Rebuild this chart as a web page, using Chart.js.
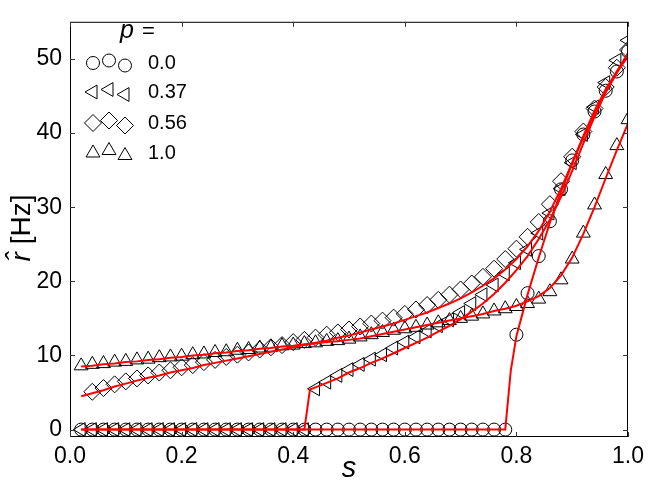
<!DOCTYPE html>
<html>
<head>
<meta charset="utf-8">
<script src="https://cdn.jsdelivr.net/npm/chart.js@4.4.1/dist/chart.umd.min.js"></script>
<style>
  html, body { margin: 0; padding: 0; background: #fff; }
  #wrap { width: 650px; height: 496px; position: relative; }
</style>
</head>
<body>
<div id="wrap"><canvas id="c" width="650" height="496"></canvas></div>
<script>
// ---------- data ----------
const sGrid = [0.02,0.04,0.06,0.08,0.10,0.12,0.14,0.16,0.18,0.20,
               0.22,0.24,0.26,0.28,0.30,0.32,0.34,0.36,0.38,0.40,
               0.42,0.44,0.46,0.48,0.50,0.52,0.54,0.56,0.58,0.60,
               0.62,0.64,0.66,0.68,0.70,0.72,0.74,0.76,0.78,0.80,
               0.82,0.84,0.86,0.88,0.90,0.92,0.94,0.96,0.98,1.00];

// simulation markers
const rP000 = [0,0,0,0,0,0,0,0,0,0,
               0,0,0,0,0,0,0,0,0,0,
               0,0,0,0,0,0,0,0,0,0,
               0,0,0,0,0,0,0,0,0,12.8,
               18.4,23.4,28.1,32.4,36.3,39.8,42.9,45.7,48.3,51.0];
const rP037 = [0,0,0,0,0,0,0,0,0,0,
               0,0,0,0,0,0,0,0,0,0,
               0,5.5,6.4,7.3,8.1,8.8,9.5,10.1,11.0,11.8,
               12.5,13.3,14.0,14.8,15.8,17.0,18.2,19.5,21.0,22.5,
               24.3,26.5,29.2,32.5,36.0,39.8,43.5,46.8,49.8,52.5];
const rP056 = [null,5.1,5.6,6.1,6.5,6.9,7.3,7.7,8.0,8.4,
               8.7,9.1,9.4,9.8,10.1,10.4,10.8,11.1,11.4,11.8,
               12.1,12.4,12.8,13.1,13.5,13.9,14.3,14.7,15.1,15.6,
               16.2,16.8,17.5,18.2,18.9,19.7,20.6,21.7,23.0,24.4,
               26.0,28.0,30.4,33.5,36.8,40.2,43.3,46.2,48.8,51.2];
const rP100 = [8.6,8.8,8.9,9.1,9.2,9.4,9.5,9.7,9.8,9.9,
               10.1,10.2,10.4,10.5,10.7,10.8,11.0,11.1,11.3,11.4,
               11.6,11.7,11.9,12.0,12.2,12.5,12.8,13.1,13.4,13.6,
               13.8,14.1,14.4,14.7,15.0,15.3,15.6,16.0,16.3,16.6,
               17.0,17.6,18.6,20.2,23.0,26.5,30.3,34.4,38.3,41.8];

// theory curves (red)
const fitS000 = [0.02,0.78,0.79,0.80,0.82,0.84,0.86,0.88,0.90,0.92,0.94,0.96,0.98,1.00];
const fitR000 = [0,0,8.0,12.6,18.2,23.2,27.9,32.1,35.9,39.4,42.6,45.5,48.1,50.5];
const fitS037 = [0.02,0.42,0.43,0.44,0.46,0.48,0.50,0.52,0.54,0.56,0.58,0.60,0.62,0.64,0.66,0.68,
                 0.70,0.72,0.74,0.76,0.78,0.80,0.82,0.84,0.86,0.88,0.90,0.92,0.94,0.96,0.98,1.00];
const fitR037 = [0,0,5.4,5.7,6.3,6.9,7.7,8.3,9.0,9.6,10.3,11.0,11.7,12.4,13.2,14.0,
                 14.9,15.9,17.0,18.3,19.8,21.5,23.4,25.7,28.3,31.4,34.9,38.6,42.2,45.5,48.3,50.8];
const fitR056 = [4.5,4.9,5.3,5.8,6.2,6.6,7.0,7.3,7.7,8.0,
                 8.3,8.7,9.0,9.3,9.6,9.9,10.2,10.5,10.8,11.1,
                 11.4,11.7,12.0,12.4,12.7,13.1,13.5,13.9,14.3,14.8,
                 15.3,15.8,16.4,17.0,17.7,18.5,19.4,20.4,21.6,23.0,
                 24.7,26.8,29.4,32.5,36.0,39.6,43.0,45.9,48.3,50.3];
const fitR100 = [8.5,8.6,8.8,8.9,9.1,9.2,9.4,9.5,9.7,9.8,
                 10.0,10.1,10.3,10.4,10.6,10.7,10.9,11.0,11.2,11.3,
                 11.5,11.6,11.8,11.9,12.1,12.3,12.6,12.9,13.2,13.5,
                 13.8,14.1,14.4,14.7,15.0,15.3,15.6,16.0,16.3,16.7,
                 17.3,18.0,19.1,20.8,23.2,26.4,30.0,33.9,37.7,41.3];

const pLabels = ['0.0','0.37','0.56','1.0'];
const xTicks = [0.0,0.2,0.4,0.6,0.8,1.0];
const yTicks = [0,10,20,30,40,50];

// ---------- helpers ----------
const pts = (xs, ys) => xs.map((s,i)=>({x:s,y:ys[i]})).filter(p=>p.y!==null && p.y!==undefined);
const FONT = '"Liberation Sans", Arial, Helvetica, sans-serif';

function markerSet(label, ys, style, radius, rotation) {
  return {
    label, data: pts(sGrid, ys), showLine: false, order: 2,
    pointStyle: style, pointRadius: radius, pointHoverRadius: radius, pointRotation: rotation,
    pointBorderColor: '#000', pointBackgroundColor: 'rgba(0,0,0,0)', pointBorderWidth: 1
  };
}
function fitSet(xs, ys) {
  return {
    label: '', data: pts(xs, ys), showLine: true, order: 0,
    borderColor: '#ff0000', borderWidth: 2, pointRadius: 0, pointHoverRadius: 0,
    tension: 0, fill: false
  };
}

const markers = [
  markerSet(pLabels[0], rP000, 'circle', 6.5, 0),
  markerSet(pLabels[1], rP037, 'triangle', 8, -90),
  markerSet(pLabels[2], rP056, 'rectRot', 8.5, 0),
  markerSet(pLabels[3], rP100, 'triangle', 8, 0)
];
const fits = [
  fitSet(fitS000, fitR000),
  fitSet(fitS037, fitR037),
  fitSet(sGrid, fitR056),
  fitSet(sGrid, fitR100)
];

function drawMarker(ctx, style, r, rot, x, y) {
  if (Chart.helpers && Chart.helpers.drawPoint) {
    Chart.helpers.drawPoint(ctx, {pointStyle: style, radius: r, rotation: rot, borderWidth: 1}, x, y);
  }
}

const framePlugin = {
  id: 'frame',
  afterDraw(chart) {
    const {ctx, chartArea: a, scales: {x, y}} = chart;
    ctx.save();
    // frame
    ctx.strokeStyle = '#000';
    ctx.lineWidth = 1;
    ctx.strokeRect(a.left + 0.5, a.top + 0.5, a.right - a.left - 1, a.bottom - a.top - 1);
    // inward ticks
    ctx.strokeStyle = '#333';
    ctx.beginPath();
    const tl = 5;
    xTicks.forEach(v => {
      const px = Math.round(x.getPixelForValue(v)) + 0.5;
      ctx.moveTo(px, a.bottom); ctx.lineTo(px, a.bottom - tl);
      ctx.moveTo(px, a.top); ctx.lineTo(px, a.top + tl);
    });
    yTicks.forEach(v => {
      const py = Math.round(y.getPixelForValue(v)) + 0.5;
      ctx.moveTo(a.left, py); ctx.lineTo(a.left + tl, py);
      ctx.moveTo(a.right, py); ctx.lineTo(a.right - tl, py);
    });
    ctx.stroke();

    // legend
    ctx.fillStyle = '#000';
    ctx.textBaseline = 'alphabetic';
    ctx.textAlign = 'left';
    ctx.font = 'italic 25px ' + FONT;
    ctx.fillText('p', 120, 38);
    ctx.font = '22px ' + FONT;
    ctx.fillText('=', 142, 38);
    const rowY = [63, 92, 123, 153];
    const mx = [93, 109, 125];
    const dy = [0, -2.5, 2.5];
    markers.forEach((ds, i) => {
      ctx.strokeStyle = '#000';
      ctx.fillStyle = 'rgba(0,0,0,0)';
      ctx.lineWidth = 1;
      mx.forEach((xx, k) => drawMarker(ctx, ds.pointStyle, ds.pointRadius, ds.pointRotation, xx, rowY[i] + dy[k]));
      ctx.fillStyle = '#000';
      ctx.font = '20px ' + FONT;
      ctx.textBaseline = 'middle';
      ctx.fillText(ds.label, 148, rowY[i]);
    });

    // y-axis title: italic r-hat + [Hz]
    ctx.translate(22, 228);
    ctx.rotate(-Math.PI / 2);
    ctx.textBaseline = 'middle';
    const t1 = 'r\u0302', t2 = ' [Hz]';
    ctx.font = 'italic 28px ' + FONT;
    const w1 = ctx.measureText(t1).width;
    ctx.font = '28px ' + FONT;
    const w2 = ctx.measureText(t2).width;
    const x0 = -(w1 + w2) / 2;
    ctx.font = 'italic 28px ' + FONT;
    ctx.fillText(t1, x0, 0);
    ctx.font = '28px ' + FONT;
    ctx.fillText(t2, x0 + w1, 0);
    ctx.restore();
  }
};

new Chart(document.getElementById('c'), {
  type: 'scatter',
  data: { datasets: [...fits, ...markers] },
  options: {
    responsive: false,
    animation: false,
    devicePixelRatio: 1,
    layout: { padding: { top: 3, right: 19, left: 0, bottom: 0 } },
    plugins: { legend: { display: false }, tooltip: { enabled: false } },
    scales: {
      x: {
        type: 'linear', min: 0, max: 1,
        grid: { display: false, drawTicks: false, tickLength: 0 }, border: { display: false },
        afterBuildTicks: s => { s.ticks = xTicks.map(v => ({value: v})); },
        afterFit: s => { s.height = 59; },
        ticks: { padding: 6, color: '#000', font: { family: FONT, size: 23 },
                 callback: v => Number(v).toFixed(1), maxRotation: 0 },
        title: { display: true, text: 's', color: '#000',
                 font: { family: FONT, size: 29, style: 'italic' }, padding: { top: 0, bottom: 10 } }
      },
      y: {
        type: 'linear', min: -1, max: 55,
        grid: { display: false, drawTicks: false, tickLength: 0 }, border: { display: false },
        afterBuildTicks: s => { s.ticks = yTicks.map(v => ({value: v})); },
        afterFit: s => { s.width = 70; },
        ticks: { padding: 8, color: '#000', font: { family: FONT, size: 23 },
                 callback: v => String(v) },
        title: { display: false }
      }
    }
  },
  plugins: [framePlugin]
});
</script>
</body>
</html>
